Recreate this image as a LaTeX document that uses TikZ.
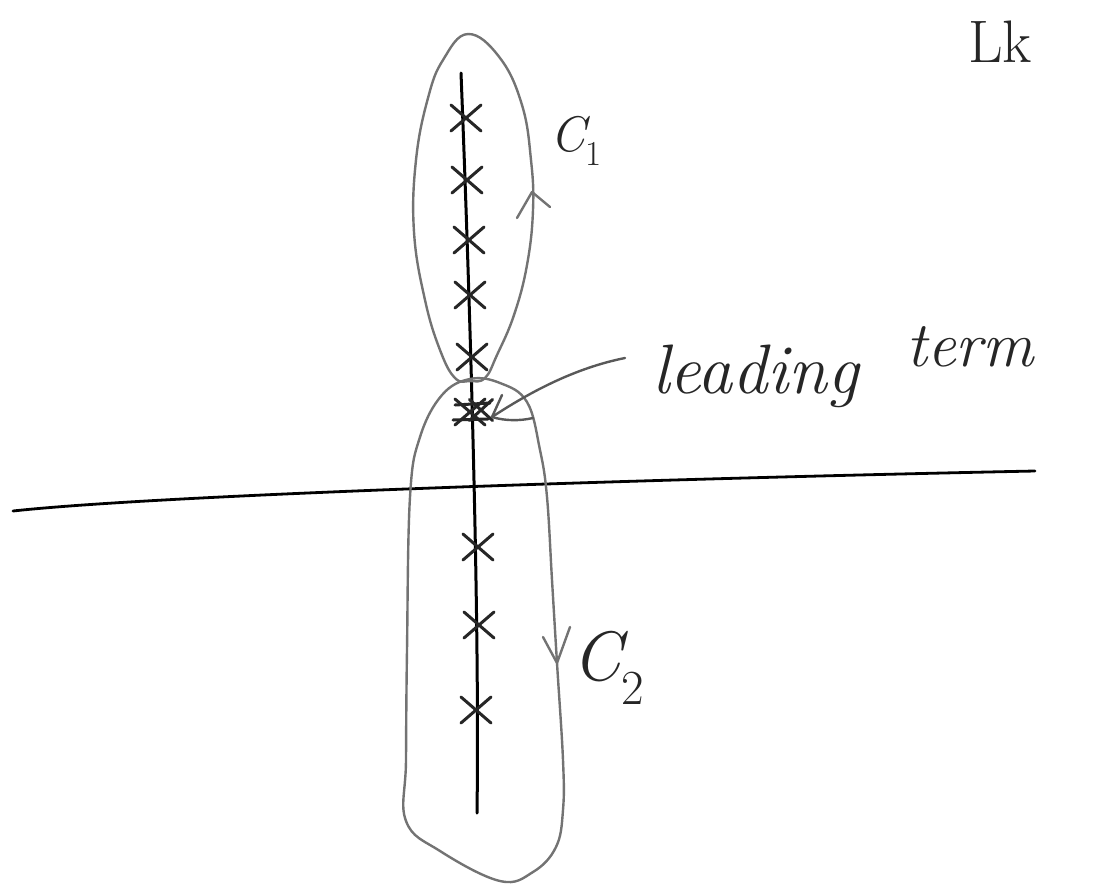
\documentclass[tikz,border=0pt]{standalone}
\usepackage{fontspec}
\usepackage{tikz}
\usetikzlibrary{shapes.misc}

\tikzset{
  pole/.style={cross out, draw=black!85, line width=3pt, line cap=round, minimum width=27pt, minimum height=23pt, inner sep=0pt},
  contour/.style={draw=black!55, line width=2.4pt, line join=round, line cap=round},
  ink/.style={text=black!85, inner sep=0pt}
}

\begin{document}
\begin{tikzpicture}[x=1pt,y=-1pt]
\useasboundingbox (0,0) rectangle (1096,884);

% Real axis
\draw[line width=2.8pt, line cap=round] (13,511) .. controls (150,496) and (600,480) .. (1035,471);

% Line of poles
\draw[line width=3pt, line cap=round] (461,73) .. controls (468,250) and (480,600) .. (477,813);

% Poles
\foreach \x/\y [count=\n] in {466/118, 467/180, 469/240, 470/295, 472/357, 478/547, 479/625, 476/710}
  \node[pole] (p\n) at (\x,\y) {};

% Leading pole
\node[pole] (p0) at (470,412) {};
\node[pole, minimum width=20pt, minimum height=18pt] (p0b) at (481,410) {};
\draw[line width=3pt, black!85, line cap=round] (455,405) -- (490,403);
\draw[line width=3pt, black!85, line cap=round] (453,420) -- (488,419);

% Contour C1
\draw[contour] plot[smooth cycle, tension=0.7] coordinates {
  (468,34) (500,58) (522,105) (531,160) (533,210) (527,265) (514,315) (497,355)
  (485,378) (470,381) (455,378) (440,350) (425,300) (414,232) (416,160)
  (428,98) (443,60)};
\draw[contour] (517,218) -- (532,192) -- (550,207);
\node[ink, font=\fontsize{50}{56}\selectfont\itshape] (c1) at (576,141) {C\textsubscript{\upshape 1}};

% Contour C2
\draw[contour] plot[smooth cycle, tension=0.65] coordinates {
  (470,379) (500,383) (527,402) (540,450) (547,497) (552,580) (557,663)
  (563,760) (563,810) (556,847) (533,872) (500,881) (440,851) (406,821)
  (406,760) (407,650) (410,497) (420,437) (442,395)};
\draw[contour] (543,637) -- (557,663) -- (570,627);
\node[ink, font=\fontsize{70}{78}\selectfont\itshape] (c2) at (608,668) {C\textsubscript{\upshape 2}};

% Leading term label
\node[ink, font=\fontsize{70}{80}\selectfont\itshape, anchor=base west] (lead) at (652,393) {leading};
\node[ink, font=\fontsize{64}{72}\selectfont\itshape, anchor=base west] (term) at (906,366) {term};
\coordinate (tail) at (625,358);
\coordinate (cluster) at (492,417);
\draw[contour, black!65] (tail) .. controls (575,368) and (530,392) .. (cluster);
\draw[contour, black!65] (502,395) -- (cluster) .. controls (505,421) and (520,421) .. (533,418);

% Corner label
\node[ink, font=\fontsize{60}{66}\selectfont] (lk) at (1000,42) {Lk};

\end{tikzpicture}
\end{document}
